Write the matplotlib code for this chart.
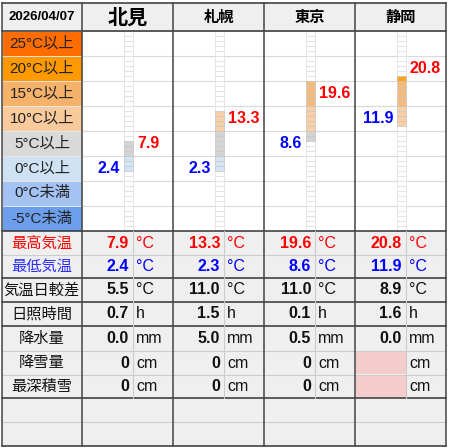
import math
import matplotlib
matplotlib.use("Agg")
import matplotlib.pyplot as plt
from matplotlib.patches import Rectangle

plt.rcParams['font.family'] = ['Liberation Sans', 'Noto Sans CJK JP', 'DejaVu Sans']

date_label = "2026/04/07"
cities = ["北見", "札幌", "東京", "静岡"]
tmax = [7.9, 13.3, 19.6, 20.8]
tmin = [2.4, 2.3, 8.6, 11.9]
tdiff = [5.5, 11.0, 11.0, 8.9]
sunshine = [0.7, 1.5, 0.1, 1.6]
precip = [0.0, 5.0, 0.5, 0.0]
snowfall = [0, 0, 0, None]
snowdepth = [0, 0, 0, None]

band_labels = ["25°C以上", "20°C以上", "15°C以上", "10°C以上", "5°C以上", "0°C以上", "0°C未満", "-5°C未満"]
band_lows = [25, 20, 15, 10, 5, 0, -5, -10]
band_colors = ["#FF6D01", "#FF9900", "#F6B26B", "#F9CB9C", "#D9D9D9", "#CFE2F3", "#A4C2F4", "#6D9EEB"]
cell_colors = {20: "#FF9900", 15: "#F6B26B", 10: "#F9CB9C", 5: "#D0D0D0", 0: "#CFE2F3"}

fig = plt.figure(figsize=(4.5, 4.48), dpi=100)
ax = fig.add_axes([0, 0, 1, 1])
ax.set_xlim(0, 450); ax.set_ylim(448, 0); ax.axis('off')

X0, XL = 2, 82
CW = 91
colx = [XL + i * CW for i in range(5)]
HT, HB = 3, 31
BAND_H = 25
def y_of(t):
    return 181 - 5 * t
TB = 231

JP = ['Noto Sans CJK JP']
NUM = ['Liberation Sans', 'Noto Sans CJK JP']

# header
ax.add_patch(Rectangle((X0, HT), 446 - X0, HB - HT, fc="#EFEFEF", ec="none"))
ax.text((X0 + XL) / 2, (HT + HB) / 2, date_label, ha='center', va='center', fontsize=9.5, fontweight='bold', family=NUM)
for i, c in enumerate(cities):
    ax.text(colx[i] + CW / 2, (HT + HB) / 2, c, ha='center', va='center',
            fontsize=14.5 if i == 0 else 11, fontweight='bold', family=JP)

# band labels & grid
for k, (lab, col) in enumerate(zip(band_labels, band_colors)):
    y0 = HB + k * BAND_H
    ax.add_patch(Rectangle((X0, y0), XL - X0, BAND_H, fc=col, ec="#E8E8E8", lw=0.6))
    ax.text((X0 + XL) / 2, y0 + BAND_H / 2, lab, ha='center', va='center', fontsize=11, color="#222222", family=NUM)
    ax.plot([XL, 446], [y0, y0], color="#D9D9D9", lw=0.8, zorder=1)

# temperature strips
for i in range(4):
    sx = colx[i] + 42
    for t in range(-10, 30):
        ax.add_patch(Rectangle((sx, y_of(t + 1)), 9, 5, fc="white", ec="#E2E2E2", lw=0.6, zorder=2))
    lo, hi = math.floor(tmin[i]), math.ceil(tmax[i])
    for t in range(lo, hi):
        b = min(20, (t // 5) * 5)
        ax.add_patch(Rectangle((sx, y_of(t + 1)), 9, 5, fc=cell_colors[max(0, b)], ec="#C8C8C8", lw=0.5, alpha=0.9, zorder=3))
    ymx = y_of(math.floor(tmax[i] / 5) * 5 + 2.5)
    ymn = y_of(math.floor(tmin[i] / 5) * 5 + 2.5)
    ax.text(sx + 13, ymx, f"{tmax[i]:.1f}", ha='left', va='center', fontsize=11.5, fontweight='bold', color="#FF0000", family=NUM, zorder=4)
    ax.text(sx - 4, ymn, f"{tmin[i]:.1f}", ha='right', va='center', fontsize=11.5, fontweight='bold', color="#0000FF", family=NUM, zorder=4)

# bottom table
row_tops = [231, 255, 278, 302, 326, 351, 375, 398, 422, 446]
ax.add_patch(Rectangle((X0, TB), 446 - X0, 446 - TB, fc="#EFEFEF", ec="none", zorder=0.5))
rows = [
    ("最高気温", tmax, "°C", "#FF0000", "#FF0000", "{:.1f}"),
    ("最低気温", tmin, "°C", "#2E2EFF", "#0000FF", "{:.1f}"),
    ("気温日較差", tdiff, "°C", "#111111", "#111111", "{:.1f}"),
    ("日照時間", sunshine, "h", "#111111", "#111111", "{:.1f}"),
    ("降水量", precip, "mm", "#111111", "#111111", "{:.1f}"),
    ("降雪量", snowfall, "cm", "#111111", "#111111", "{:d}"),
    ("最深積雪", snowdepth, "cm", "#111111", "#111111", "{:d}"),
]
for r, (lab, vals, unit, lc, vc, fmt) in enumerate(rows):
    y0, y1 = row_tops[r], row_tops[r + 1]
    yc = (y0 + y1) / 2
    ax.text((X0 + XL) / 2, yc, lab, ha='center', va='center', fontsize=11, color=lc, family=JP)
    for i in range(4):
        v = vals[i]
        if v is None:
            ax.add_patch(Rectangle((colx[i] + 1, y0 + 0.5), 50, y1 - y0 - 1, fc="#F4CCCC", ec="none", zorder=1))
        else:
            ax.text(colx[i] + 47, yc, fmt.format(v), ha='right', va='center', fontsize=11.5, fontweight='bold', color=vc, family=NUM)
        ax.text(colx[i] + 54, yc, unit, ha='left', va='center', fontsize=11.5, color=vc if unit == "°C" else "#111111", family=NUM)

thick = {231, 278, 302, 326, 398, 446}
for y in row_tops:
    if y in thick:
        ax.plot([X0, 446], [y, y], color="#333333", lw=1.1, zorder=5)
    else:
        ax.plot([X0, 446], [y, y], color="#CCCCCC", lw=0.8, zorder=5)
for i in range(4):
    ax.plot([colx[i] + 51, colx[i] + 51], [TB, 398], color="#CCCCCC", lw=0.8, zorder=5)

# frame lines
ax.plot([X0, 446], [HT, HT], color="#333333", lw=1.1, zorder=5)
ax.plot([X0, 446], [HB, HB], color="#333333", lw=1.1, zorder=5)
for x in [X0] + colx:
    ax.plot([x, x], [HT, 446], color="#444444", lw=1.1, zorder=5)

fig.savefig("out.png", dpi=100)
